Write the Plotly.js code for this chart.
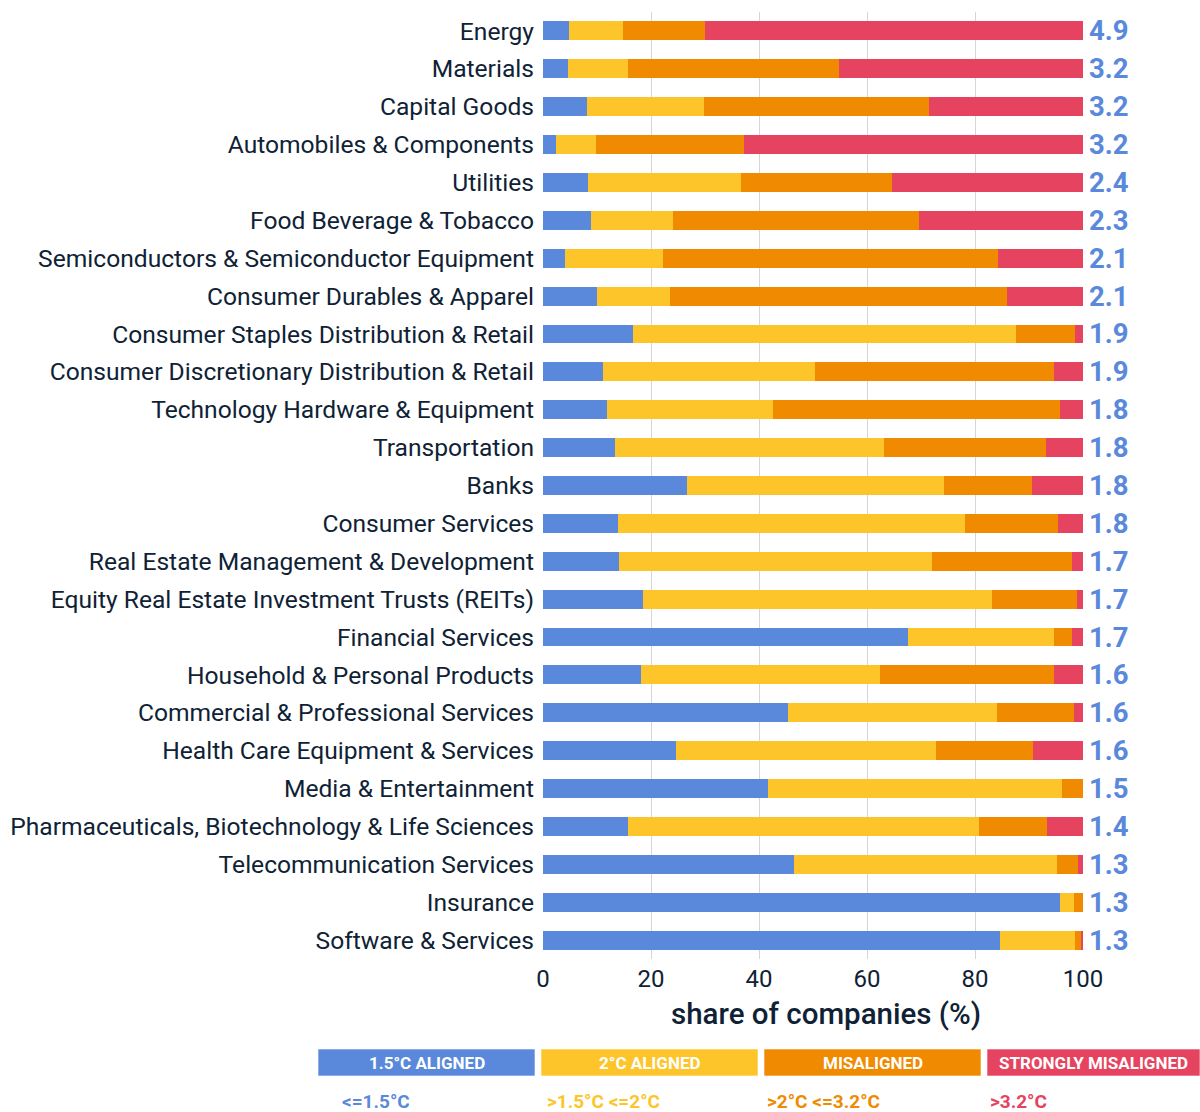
<!DOCTYPE html>
<html>
<head>
<meta charset="utf-8">
<script src="https://cdn.plot.ly/plotly-3.0.1.min.js"></script>
<style>html,body{margin:0;padding:0;background:#fff;}#chart{width:1200px;height:1112px;}</style>
</head>
<body>
<div id="chart"></div>
<script>
const categories = ["Energy","Materials","Capital Goods","Automobiles & Components","Utilities","Food Beverage & Tobacco","Semiconductors & Semiconductor Equipment","Consumer Durables & Apparel","Consumer Staples Distribution & Retail","Consumer Discretionary Distribution & Retail","Technology Hardware & Equipment","Transportation","Banks","Consumer Services","Real Estate Management & Development","Equity Real Estate Investment Trusts (REITs)","Financial Services","Household & Personal Products","Commercial & Professional Services","Health Care Equipment & Services","Media & Entertainment","Pharmaceuticals, Biotechnology & Life Sciences","Telecommunication Services","Insurance","Software & Services"];
const aligned15 = [4.8,4.6,8.2,2.4,8.3,8.9,4.1,10.0,16.6,11.1,11.9,13.3,26.7,13.9,14.1,18.5,67.5,18.2,45.3,24.6,41.6,15.7,46.4,95.8,84.7];
const aligned2 = [10.0,11.1,21.6,7.4,28.4,15.1,18.1,13.5,70.9,39.2,30.6,49.8,47.5,64.2,57.9,64.7,27.2,44.2,38.7,48.1,54.6,65.1,48.8,2.6,13.9];
const misaligned = [15.2,39.1,41.6,27.4,28.0,45.6,62.1,62.4,11.1,44.4,53.3,30.0,16.4,17.3,25.9,15.6,3.2,32.3,14.4,18.1,3.8,12.5,3.9,1.6,1.1];
const strongly = [70.0,45.2,28.6,62.8,35.3,30.4,15.7,14.1,1.4,5.3,4.2,6.9,9.4,4.6,2.1,1.2,2.1,5.3,1.6,9.2,0.0,6.7,0.9,0.0,0.3];
const scores = ["4.9","3.2","3.2","3.2","2.4","2.3","2.1","2.1","1.9","1.9","1.8","1.8","1.8","1.8","1.7","1.7","1.7","1.6","1.6","1.6","1.5","1.4","1.3","1.3","1.3"];
const seriesNames = ["1.5°C ALIGNED","2°C ALIGNED","MISALIGNED","STRONGLY MISALIGNED"];
const rangeLabels = ["<=1.5°C",">1.5°C <=2°C",">2°C <=3.2°C",">3.2°C"];
const colors = ["#5a89db","#fdc52a","#f08a00","#e54360"];
const xTicks = [0,20,40,60,80,100];

const W = 1200, H = 1112;
const M = {l:543, r:117, t:12, b:153};
const pw = W - M.l - M.r, ph = H - M.t - M.b;
const px = x => (x - M.l) / pw;
const py = y => (H - M.b - y) / ph;

const seriesVals = [aligned15, aligned2, misaligned, strongly];
const traces = seriesVals.map((vals, i) => ({
  type: 'bar', orientation: 'h', name: seriesNames[i],
  y: categories, x: vals, width: 0.5,
  marker: {color: colors[i], line: {width: 0}},
  hoverinfo: 'x+y', showlegend: false
}));

const annotations = categories.map((c, i) => ({
  xref: 'paper', x: 1, xanchor: 'left', xshift: 4,
  yref: 'y', y: c, yanchor: 'middle',
  text: '<b>' + scores[i] + '</b>', showarrow: false,
  font: {family: 'Roboto', size: 27.5, color: '#5a89db'}
}));

annotations.push({
  xref: 'paper', yref: 'paper', x: px(826), y: py(1014), xanchor: 'center', yanchor: 'middle',
  text: 'share of companies (%)', showarrow: false,
  font: {family: 'Roboto', size: 29.5, color: '#0f2235', weight: 500}
});

const boxL = [318, 541, 764, 987];
const boxW = 217;
const subL = [340, 545, 765, 988];
const shapes = [];
boxL.forEach((l, i) => {
  shapes.push({type: 'rect', xref: 'paper', yref: 'paper',
    x0: px(l), x1: px(Math.min(l + boxW, 1200)), y0: py(1076), y1: py(1049),
    fillcolor: colors[i], line: {width: 1, color: 'rgba(255,255,255,0.6)'}, layer: 'above'});
  annotations.push({xref: 'paper', yref: 'paper',
    x: px(l + Math.min(boxW, 1200 - l) / 2), y: py(1063), xanchor: 'center', yanchor: 'middle',
    text: '<b>' + seriesNames[i] + '</b>', showarrow: false,
    font: {family: 'Roboto', size: 17, color: '#ffffff'}});
  annotations.push({xref: 'paper', yref: 'paper',
    x: px(subL[i]), y: py(1101), xanchor: 'left', yanchor: 'middle',
    text: '<b>' + rangeLabels[i].replace(/</g,'&lt;').replace(/>/g,'&gt;') + '</b>', showarrow: false,
    font: {family: 'Roboto', size: 19, color: colors[i]}});
});

const layout = {
  width: W, height: H, margin: M,
  paper_bgcolor: '#ffffff', plot_bgcolor: '#ffffff',
  barmode: 'stack', bargap: 0.5,
  showlegend: false,
  font: {family: 'Roboto', color: '#0f2235'},
  xaxis: {
    range: [0, 100], tickvals: xTicks, ticktext: xTicks.map(String),
    showgrid: true, gridcolor: '#d6d6d6', gridwidth: 1,
    zeroline: false, showline: false, ticks: '', ticklabelstandoff: 3,
    tickfont: {family: 'Roboto', size: 24, color: '#0f2235'},
    fixedrange: true
  },
  yaxis: {
    type: 'category', categoryorder: 'array', categoryarray: categories,
    range: [24.5, -0.5], showgrid: false, zeroline: false, showline: false,
    ticks: '', ticklabelstandoff: 8,
    tickfont: {family: 'Roboto', size: 24.6, color: '#0f2235'},
    fixedrange: true
  },
  annotations: annotations,
  shapes: shapes
};

Plotly.newPlot('chart', traces, layout, {displayModeBar: false, staticPlot: true});
</script>
</body>
</html>
